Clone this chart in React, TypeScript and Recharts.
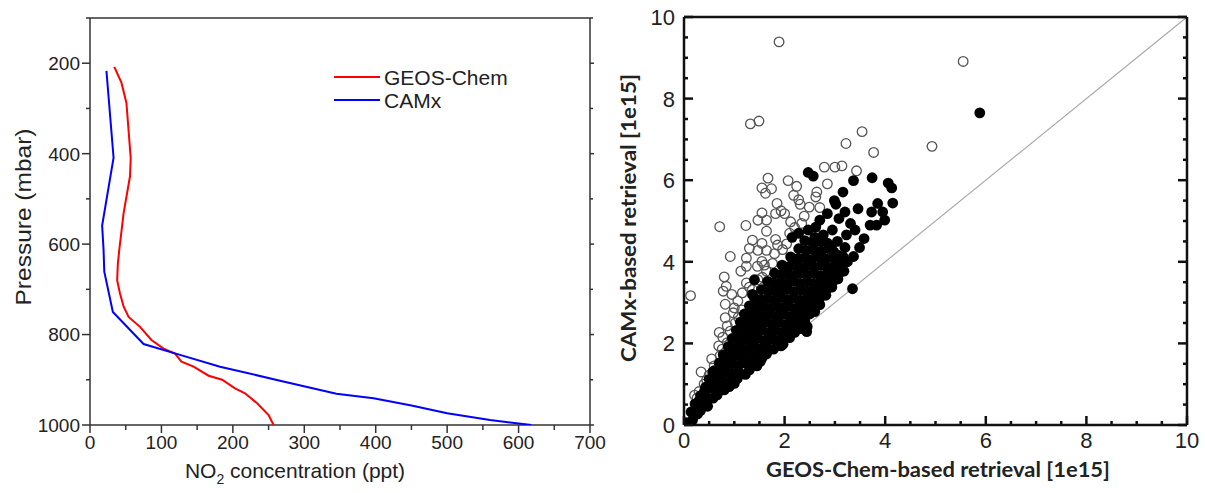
import React from "react";
import { ScatterChart, Scatter, XAxis, YAxis, ReferenceLine, Legend } from "recharts";

// left panel: NO2 vertical profiles (ppt vs mbar)
const geosConc = [34, 44, 51, 57, 56, 47, 41, 39, 38, 42, 47, 54, 70, 86, 103, 119, 128, 145, 166, 185, 203, 217, 234, 250, 257];
const geosPres = [208, 243, 288, 410, 450, 532, 613, 643, 680, 709, 738, 761, 783, 812, 831, 842, 860, 871, 891, 900, 919, 930, 952, 978, 1000];
const camxConc = [23, 33, 17, 19, 20, 32, 75, 126, 182, 266, 345, 397, 450, 500, 560, 618];
const camxPres = [217, 409, 559, 613, 661, 750, 821, 845, 871, 902, 931, 941, 957, 974, 989, 1000];
const legendOrder = ["GEOS-Chem", "CAMx"];

const presTicks = [100, 200, 300, 400, 500, 600, 700, 800, 900, 1000];
const concTicks = [0, 50, 100, 150, 200, 250, 300, 350, 400, 450, 500, 550, 600, 650, 700];

// right panel: retrieval scatter [1e15]
const retrTicks = [0, 0.5, 1, 1.5, 2, 2.5, 3, 3.5, 4, 4.5, 5, 5.5, 6, 6.5, 7, 7.5, 8, 8.5, 9, 9.5, 10];

const openPts: [number, number][] = [
  [1.89, 9.39], [5.55, 8.91], [1.32, 7.38], [1.49, 7.45], [3.54, 7.19], [4.93, 6.83], [3.22, 6.9], [3.77, 6.68],
  [2.79, 6.32], [3.0, 6.32], [3.14, 6.35], [3.43, 6.23], [2.85, 5.91], [1.67, 6.05], [2.07, 5.99], [1.55, 5.81],
  [1.74, 5.79], [1.62, 5.68], [2.24, 5.85], [2.18, 5.63], [2.28, 5.52], [2.31, 5.41], [2.64, 5.71], [2.62, 5.59],
  [2.49, 5.34], [2.7, 5.33], [1.85, 5.43], [1.93, 5.25], [2.0, 5.18], [1.82, 5.18], [1.55, 5.2], [1.47, 5.02],
  [1.64, 5.02], [2.12, 4.98], [2.39, 5.12], [1.23, 4.89], [0.71, 4.86], [1.64, 4.75], [2.1, 4.7], [1.36, 4.53],
  [1.55, 4.45], [1.82, 4.55], [1.86, 4.41], [1.3, 4.33], [1.47, 4.28], [1.64, 4.28], [0.92, 4.13], [1.24, 4.09],
  [1.55, 4.01], [1.46, 3.89], [1.13, 3.77], [1.24, 3.89], [0.8, 3.63], [1.24, 3.48], [0.13, 3.17], [0.78, 3.28],
  [0.84, 3.4], [0.95, 3.2], [0.82, 2.96], [0.98, 2.75], [0.82, 2.63], [0.86, 2.43], [0.7, 2.27], [0.77, 2.15],
  [0.69, 1.94], [0.34, 1.3], [0.21, 0.73], [0.55, 1.62], [1.16, 3.24], [1.36, 3.32], [1.07, 3.04], [1.0, 2.87],
  [1.47, 3.56], [1.64, 3.77], [0.6, 1.45], [0.72, 1.7], [0.76, 1.86], [0.86, 2.02], [0.92, 2.3], [1.02, 2.5],
  [1.08, 2.64], [1.15, 2.82], [1.3, 3.38], [1.56, 3.62], [1.6, 3.92], [1.76, 3.96], [1.8, 4.2], [1.96, 4.3],
  [2.04, 4.44], [2.2, 4.84], [2.34, 4.94], [0.4, 1.0], [0.3, 0.82], [0.26, 0.66], [0.5, 1.22], [0.45, 1.1],
];

const filledPts: [number, number][] = [
  [0.05, 0.06], [0.17, 0.12], [0.14, 0.32], [0.27, 0.27], [0.33, 0.36],
  [0.22, 0.52], [0.36, 0.49], [0.47, 0.46], [0.3, 0.6],
  [0.33, 0.72], [0.45, 0.68], [0.58, 0.66], [0.66, 0.74], [0.41, 0.84],
  [0.43, 0.93], [0.55, 0.9], [0.68, 0.88], [0.8, 0.86], [0.9, 0.94],
  [0.5, 1.12], [0.63, 1.08], [0.75, 1.1], [0.88, 1.05], [1.0, 1.02], [1.06, 1.14], [0.57, 1.3],
  [0.6, 1.33], [0.72, 1.28], [0.84, 1.3], [0.97, 1.25], [1.1, 1.28], [1.22, 1.24], [1.3, 1.35],
  [0.7, 1.52], [0.82, 1.48], [0.95, 1.5], [1.08, 1.46], [1.2, 1.52], [1.33, 1.47], [1.45, 1.45], [1.52, 1.56],
  [0.78, 1.72], [0.91, 1.68], [1.03, 1.7], [1.16, 1.66], [1.29, 1.72], [1.42, 1.68], [1.55, 1.64], [1.64, 1.74],
  [0.88, 1.92], [1.0, 1.88], [1.13, 1.9], [1.26, 1.86], [1.39, 1.92], [1.52, 1.87], [1.65, 1.9], [1.78, 1.86], [1.88, 1.95], [1.97, 1.98],
  [0.96, 2.12], [1.08, 2.08], [1.21, 2.1], [1.34, 2.06], [1.47, 2.12], [1.6, 2.07], [1.73, 2.11], [1.86, 2.06], [1.99, 2.1], [2.1, 2.14],
  [1.04, 2.32], [1.16, 2.28], [1.29, 2.3], [1.42, 2.26], [1.55, 2.32], [1.68, 2.27], [1.81, 2.31], [1.94, 2.26], [2.07, 2.3], [2.2, 2.27], [2.31, 2.36],
  [1.12, 2.52], [1.24, 2.48], [1.37, 2.5], [1.5, 2.46], [1.63, 2.52], [1.76, 2.47], [1.89, 2.51], [2.02, 2.46], [2.15, 2.5], [2.28, 2.47], [2.4, 2.55],
  [1.2, 2.72], [1.33, 2.68], [1.46, 2.7], [1.59, 2.66], [1.72, 2.72], [1.85, 2.67], [1.98, 2.71], [2.11, 2.66], [2.24, 2.7], [2.37, 2.67], [2.5, 2.72], [2.6, 2.78],
  [1.3, 2.92], [1.43, 2.88], [1.56, 2.9], [1.69, 2.86], [1.82, 2.92], [1.95, 2.87], [2.08, 2.91], [2.21, 2.86], [2.34, 2.9], [2.47, 2.87], [2.6, 2.92], [2.7, 2.95],
  [1.4, 3.12], [1.53, 3.08], [1.66, 3.1], [1.79, 3.06], [1.92, 3.12], [2.05, 3.07], [2.18, 3.11], [2.31, 3.06], [2.44, 3.1], [2.57, 3.07], [2.7, 3.12], [2.82, 3.18],
  [1.54, 3.32], [1.67, 3.28], [1.8, 3.3], [1.93, 3.26], [2.06, 3.32], [2.19, 3.27], [2.32, 3.31], [2.45, 3.26], [2.58, 3.3], [2.71, 3.27], [2.84, 3.33], [2.94, 3.38],
  [1.66, 3.52], [1.79, 3.48], [1.92, 3.5], [2.05, 3.46], [2.18, 3.52], [2.31, 3.47], [2.44, 3.51], [2.57, 3.46], [2.7, 3.5], [2.83, 3.47], [2.96, 3.52], [3.06, 3.58],
  [1.8, 3.72], [1.93, 3.68], [2.06, 3.7], [2.19, 3.66], [2.32, 3.72], [2.45, 3.67], [2.58, 3.71], [2.71, 3.66], [2.84, 3.7], [2.97, 3.67], [3.1, 3.74],
  [1.95, 3.92], [2.08, 3.88], [2.21, 3.9], [2.34, 3.86], [2.47, 3.92], [2.6, 3.87], [2.73, 3.91], [2.86, 3.86], [2.99, 3.9], [3.1, 3.95],
  [2.12, 4.12], [2.26, 4.08], [2.4, 4.1], [2.54, 4.06], [2.68, 4.12], [2.82, 4.07], [2.96, 4.11], [3.06, 4.16],
  [2.28, 4.32], [2.43, 4.28], [2.58, 4.3], [2.73, 4.26], [2.88, 4.32], [2.98, 4.24],
  [2.4, 4.52], [2.55, 4.48], [2.7, 4.5], [2.85, 4.46],
  [5.88, 7.65], [2.47, 6.19], [2.57, 6.1], [3.37, 5.99], [3.74, 6.06], [4.06, 5.93], [4.13, 5.81], [4.15, 5.44],
  [3.16, 5.71], [2.99, 5.5], [3.02, 5.41], [3.46, 5.3], [3.2, 5.22], [3.85, 5.43], [3.73, 5.22], [3.95, 5.22],
  [3.99, 5.02], [3.7, 4.9], [3.83, 4.9], [3.31, 4.94], [3.08, 5.06], [2.85, 5.18], [2.7, 5.02], [3.4, 4.78],
  [3.58, 4.57], [3.49, 4.35], [2.95, 4.78], [2.77, 4.66], [3.23, 4.66], [2.47, 4.78], [2.28, 4.7], [2.93, 4.37],
  [3.16, 4.13], [3.37, 4.13], [3.18, 3.77], [3.35, 3.34], [2.45, 2.41], [2.44, 2.29], [1.93, 1.94], [1.36, 3.2],
  [1.4, 3.56], [2.6, 4.6], [3.05, 4.5], [3.2, 4.35], [3.25, 4.0], [2.62, 4.85], [2.15, 4.6],
];

const geosData = geosConc.map((c, i) => ({ c, p: geosPres[i] }));
const camxData = camxConc.map((c, i) => ({ c, p: camxPres[i] }));
const openData = openPts.map(([gx, cy]) => ({ gx, cy }));
const filledData = filledPts.map(([gx, cy]) => ({ gx, cy }));

const ARIAL = "'Liberation Sans', Arial, sans-serif";
const BOLDFONT = "Lato, 'Open Sans', sans-serif";

type Side = "left" | "right" | "top" | "bottom";
type TickOpts = {
  side: Side;
  inward: boolean;
  isMajor: (v: number) => boolean;
  major: number;
  minor: number;
  label: boolean;
  gap: number;
  size: number;
  stroke: string;
  sw: number;
};

const makeTick = (o: TickOpts) => (props: any) => {
  const { x, y, payload } = props;
  const v = payload.value;
  const big = o.isMajor(v);
  const len = big ? o.major : o.minor;
  const s = o.inward ? -1 : 1;
  let x2 = x;
  let y2 = y;
  if (o.side === "left") x2 = x - s * len;
  if (o.side === "right") x2 = x + s * len;
  if (o.side === "top") y2 = y - s * len;
  if (o.side === "bottom") y2 = y + s * len;
  let text = null;
  if (o.label && big) {
    if (o.side === "left") {
      text = (
        <text x={x - o.gap} y={y} dy="0.36em" textAnchor="end" fontFamily={ARIAL} fontSize={o.size} fill="#222">
          {v}
        </text>
      );
    } else {
      text = (
        <text x={x} y={y + o.gap} textAnchor="middle" fontFamily={ARIAL} fontSize={o.size} fill="#222">
          {v}
        </text>
      );
    }
  }
  return (
    <g>
      <line x1={x} y1={y} x2={x2} y2={y2} stroke={o.stroke} strokeWidth={o.sw} />
      {text}
    </g>
  );
};

const major200 = (v: number) => v % 200 === 0;
const major100 = (v: number) => v % 100 === 0;
const major2 = (v: number) => Math.abs(v / 2 - Math.round(v / 2)) < 1e-6;

const L = { stroke: "#333", sw: 1.5 };
const R = { stroke: "#111", sw: 2.5 };

const PresTitle = () => (
  <text x={31} y={217} transform="rotate(-90 31 217)" textAnchor="middle" fontFamily={ARIAL} fontSize={22} fill="#222" textLength={177} lengthAdjust="spacingAndGlyphs">
    Pressure (mbar)
  </text>
);

const ConcTitle = () => (
  <text x={295} y={478} textAnchor="middle" fontFamily={ARIAL} fontSize={21} fill="#222">
    <tspan>NO</tspan>
    <tspan dy={6} fontSize={14}>2</tspan>
    <tspan dy={-6}> concentration (ppt)</tspan>
  </text>
);

const CamxTitle = () => (
  <text x={36} y={218} transform="rotate(-90 36 218)" textAnchor="middle" fontFamily={BOLDFONT} fontWeight={700} fontSize={21} fill="#222" textLength={288} lengthAdjust="spacingAndGlyphs">
    CAMx-based retrieval [1e15]
  </text>
);

const GeosTitle = () => (
  <text x={338} y={477} textAnchor="middle" fontFamily={BOLDFONT} fontWeight={700} fontSize={21} fill="#222" textLength={344} lengthAdjust="spacingAndGlyphs">
    GEOS-Chem-based retrieval [1e15]
  </text>
);

const LegendBox = (props: any) => {
  const items = [...(props.payload || [])].sort(
    (a: any, b: any) => legendOrder.indexOf(a.value) - legendOrder.indexOf(b.value)
  );
  return (
    <svg width={200} height={50}>
      {items.map((e: any, i: number) => (
        <g key={i}>
          <line x1={0} x2={46} y1={11 + i * 23} y2={11 + i * 23} stroke={e.color} strokeWidth={2} />
          <text x={50} y={11 + i * 23} dy="0.36em" fontFamily={ARIAL} fontSize={21} fill="#222">
            {e.value}
          </text>
        </g>
      ))}
    </svg>
  );
};

const NoDot = () => <g />;
const OpenDot = (p: any) => <circle cx={p.cx} cy={p.cy} r={4.8} fill="none" stroke="#555" strokeWidth={1.3} />;
const FilledDot = (p: any) => <circle cx={p.cx} cy={p.cy} r={5.4} fill="#000" />;

export default function App() {
  return (
    <div style={{ position: "absolute", left: 0, top: 0, width: 1205, height: 493, background: "#fff" }}>
      <div style={{ position: "absolute", left: 0, top: 0 }}>
        <ScatterChart width={615} height={493} margin={{ top: 17, right: 24, bottom: 0, left: 0 }}>
          <XAxis
            xAxisId="b"
            type="number"
            dataKey="c"
            domain={[0, 700]}
            ticks={concTicks}
            interval={0}
            allowDataOverflow
            height={68}
            tickSize={0}
            tickMargin={0}
            tickLine={false}
            axisLine={{ stroke: L.stroke, strokeWidth: L.sw }}
            tick={makeTick({ side: "bottom", inward: false, isMajor: major100, major: 8, minor: 5, label: true, gap: 24, size: 19, ...L })}
            label={ConcTitle}
          />
          <XAxis
            xAxisId="t"
            orientation="top"
            type="number"
            domain={[0, 700]}
            ticks={concTicks}
            interval={0}
            allowDataOverflow
            height={1}
            tickSize={0}
            tickMargin={0}
            tickLine={false}
            axisLine={{ stroke: L.stroke, strokeWidth: L.sw }}
            tick={makeTick({ side: "top", inward: false, isMajor: major100, major: 4, minor: 3, label: false, gap: 0, size: 0, ...L })}
          />
          <YAxis
            yAxisId="l"
            type="number"
            dataKey="p"
            domain={[100, 1000]}
            reversed
            ticks={presTicks}
            interval={0}
            allowDataOverflow
            width={90}
            tickSize={0}
            tickMargin={0}
            tickLine={false}
            axisLine={{ stroke: L.stroke, strokeWidth: L.sw }}
            tick={makeTick({ side: "left", inward: false, isMajor: major200, major: 8, minor: 4, label: true, gap: 10, size: 19, ...L })}
            label={PresTitle}
          />
          <YAxis
            yAxisId="r"
            orientation="right"
            type="number"
            domain={[100, 1000]}
            reversed
            ticks={presTicks}
            interval={0}
            allowDataOverflow
            width={1}
            tickSize={0}
            tickMargin={0}
            tickLine={false}
            axisLine={{ stroke: L.stroke, strokeWidth: L.sw }}
            tick={makeTick({ side: "right", inward: false, isMajor: major200, major: 4, minor: 3, label: false, gap: 0, size: 0, ...L })}
          />
          <Legend
            layout="vertical"
            verticalAlign="middle"
            align="center"
            content={LegendBox}
            wrapperStyle={{ position: "absolute", left: 334, top: 66, width: 200, height: 50 }}
          />
          <Scatter
            name="GEOS-Chem"
            data={geosData}
            xAxisId="b"
            yAxisId="l"
            fill="#ff0000"
            line={{ stroke: "#ff0000", strokeWidth: 2 }}
            lineType="joint"
            shape={NoDot}
            isAnimationActive={false}
          />
          <Scatter
            name="CAMx"
            data={camxData}
            xAxisId="b"
            yAxisId="l"
            fill="#0000ff"
            line={{ stroke: "#0000ff", strokeWidth: 2 }}
            lineType="joint"
            shape={NoDot}
            isAnimationActive={false}
          />
        </ScatterChart>
      </div>
      <div style={{ position: "absolute", left: 600, top: 0 }}>
        <ScatterChart width={605} height={493} margin={{ top: 16, right: 17, bottom: 0, left: 0 }}>
          <XAxis
            xAxisId="b"
            type="number"
            dataKey="gx"
            domain={[0, 10]}
            ticks={retrTicks}
            interval={0}
            allowDataOverflow
            height={68}
            tickSize={0}
            tickMargin={0}
            tickLine={false}
            axisLine={{ stroke: R.stroke, strokeWidth: R.sw }}
            tick={makeTick({ side: "bottom", inward: true, isMajor: major2, major: 9, minor: 4, label: true, gap: 23, size: 22, ...R })}
            label={GeosTitle}
          />
          <XAxis
            xAxisId="t"
            orientation="top"
            type="number"
            domain={[0, 10]}
            ticks={retrTicks}
            interval={0}
            allowDataOverflow
            height={1}
            tickSize={0}
            tickMargin={0}
            tickLine={false}
            axisLine={{ stroke: R.stroke, strokeWidth: R.sw }}
            tick={makeTick({ side: "top", inward: true, isMajor: major2, major: 9, minor: 4, label: false, gap: 0, size: 0, ...R })}
          />
          <YAxis
            yAxisId="l"
            type="number"
            dataKey="cy"
            domain={[0, 10]}
            ticks={retrTicks}
            interval={0}
            allowDataOverflow
            width={84}
            tickSize={0}
            tickMargin={0}
            tickLine={false}
            axisLine={{ stroke: R.stroke, strokeWidth: R.sw }}
            tick={makeTick({ side: "left", inward: true, isMajor: major2, major: 9, minor: 4, label: true, gap: 9, size: 22, ...R })}
            label={CamxTitle}
          />
          <YAxis
            yAxisId="r"
            orientation="right"
            type="number"
            domain={[0, 10]}
            ticks={retrTicks}
            interval={0}
            allowDataOverflow
            width={1}
            tickSize={0}
            tickMargin={0}
            tickLine={false}
            axisLine={{ stroke: R.stroke, strokeWidth: R.sw }}
            tick={makeTick({ side: "right", inward: true, isMajor: major2, major: 9, minor: 4, label: false, gap: 0, size: 0, ...R })}
          />
          <ReferenceLine
            xAxisId="b"
            yAxisId="l"
            segment={[{ x: 0, y: 0 }, { x: 10, y: 10 }]}
            stroke="#aaa"
            strokeWidth={1.2}
          />
          <Scatter name="open" data={openData} xAxisId="b" yAxisId="l" shape={OpenDot} isAnimationActive={false} />
          <Scatter name="filled" data={filledData} xAxisId="b" yAxisId="l" shape={FilledDot} isAnimationActive={false} />
        </ScatterChart>
      </div>
    </div>
  );
}
